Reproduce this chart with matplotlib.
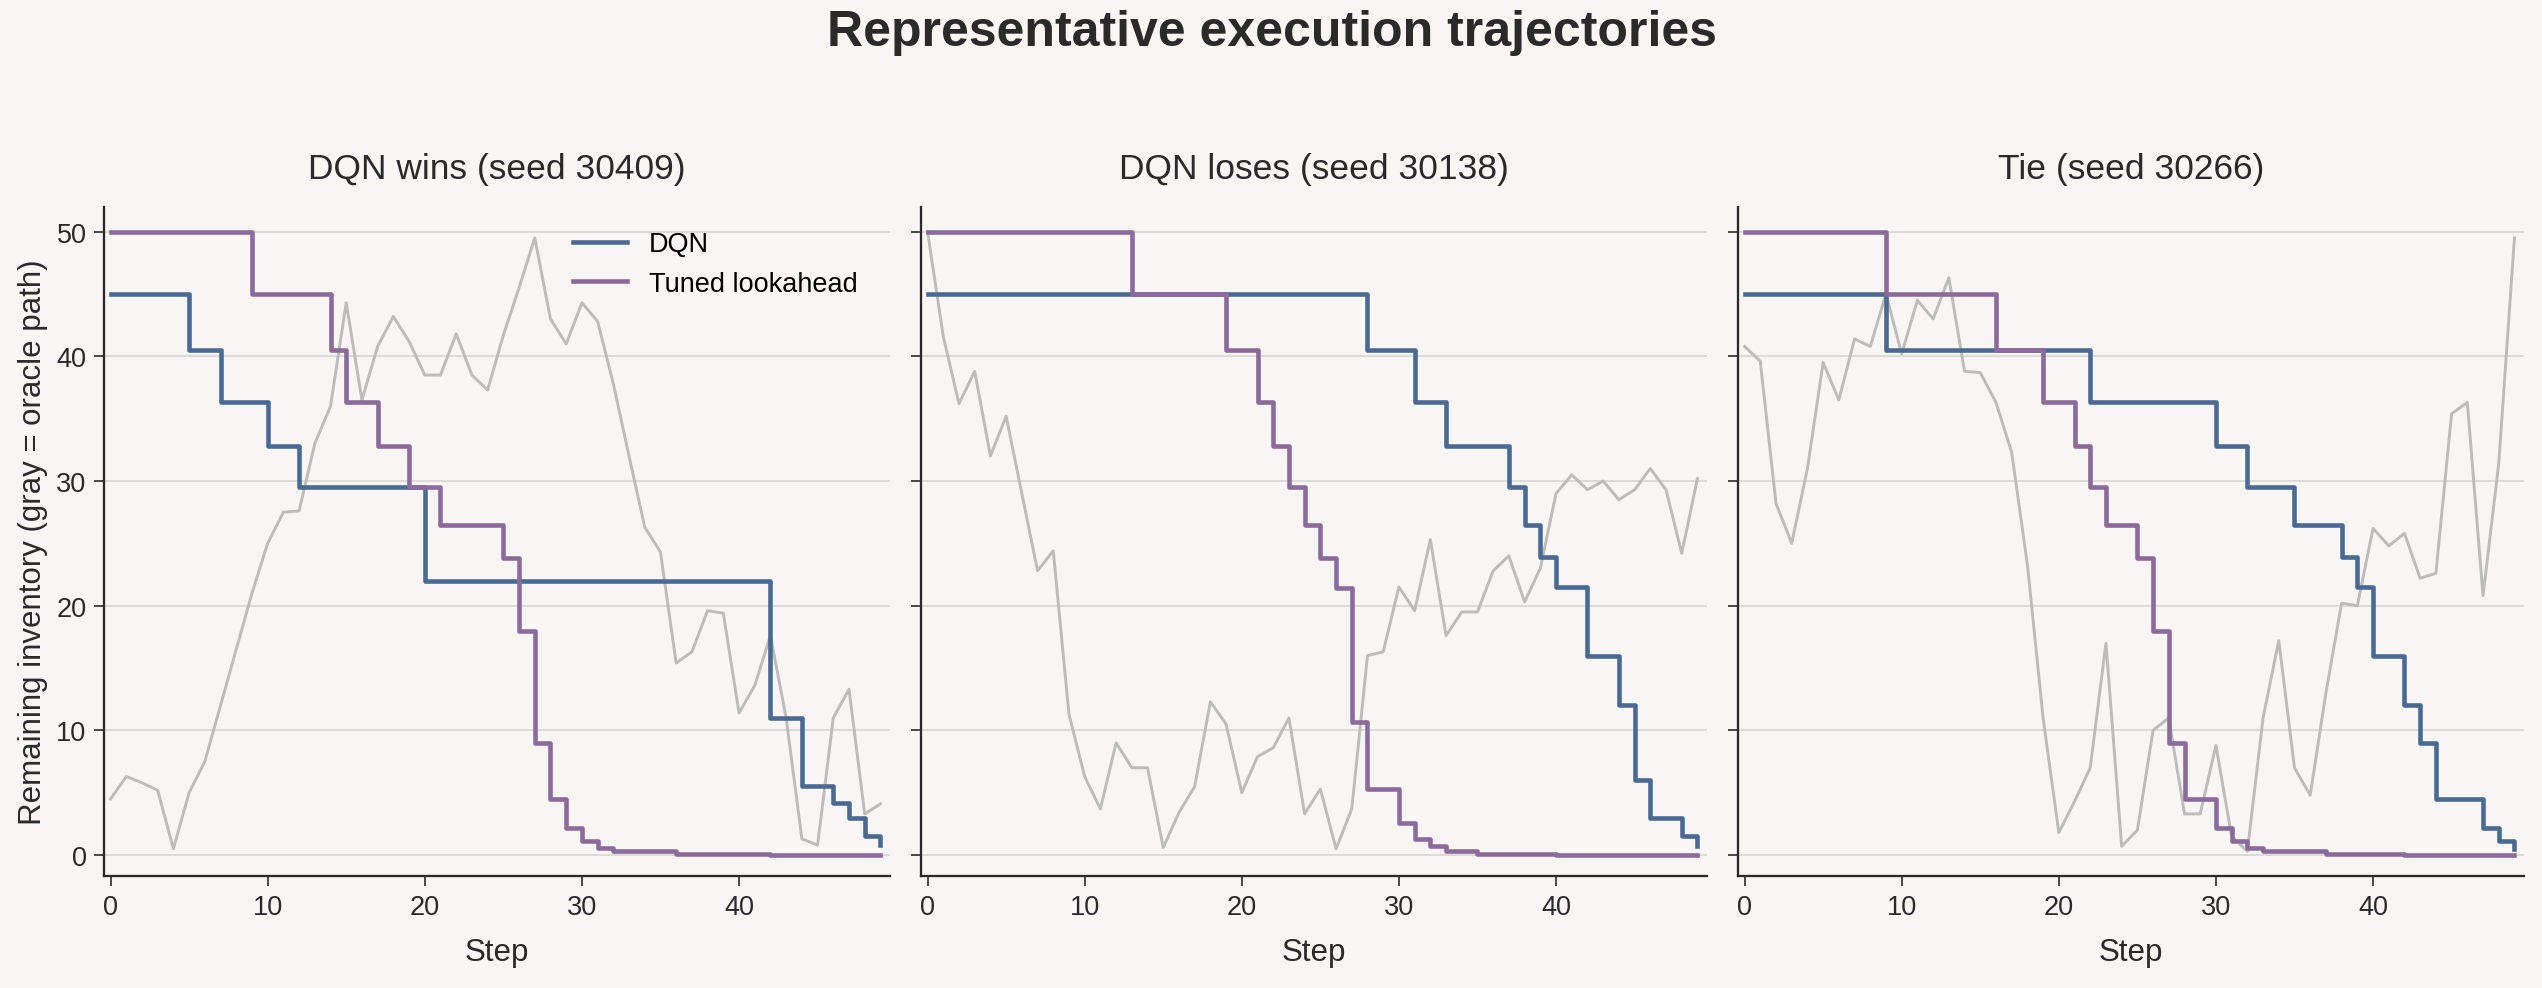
import matplotlib
matplotlib.use("Agg")
import matplotlib.pyplot as plt
import numpy as np

steps = list(range(50))

def expand(segs, n=50):
    out = []
    for val, until in segs:
        while len(out) < min(until, n):
            out.append(val)
    while len(out) < n:
        out.append(segs[-1][0])
    return out

titles = ["DQN wins (seed 30409)", "DQN loses (seed 30138)", "Tie (seed 30266)"]

dqn1 = expand([(45, 5), (40.5, 7), (36.3, 10), (32.8, 12), (29.5, 20), (22, 42), (11, 44), (5.5, 46), (4.2, 47), (3, 48), (1.5, 49), (0.8, 50)])
tun1 = expand([(50, 9), (45, 14), (40.5, 15), (36.3, 17), (32.8, 19), (29.5, 21), (26.5, 25), (23.8, 26), (18, 27), (9, 28), (4.5, 29), (2.2, 30), (1.1, 31), (0.6, 32), (0.3, 36), (0.1, 42), (0.0, 50)])
gray1 = [4.5, 6.3, 5.8, 5.2, 0.5, 5, 7.5, 12, 16.5, 21, 25, 27.5, 27.6, 33, 36, 44.3, 36.5, 40.8, 43.2, 41.2,
         38.5, 38.5, 41.8, 38.5, 37.3, 41.7, 45.5, 49.5, 43, 41, 44.3, 42.8, 37.8, 32, 26.3, 24.3, 15.4, 16.3, 19.6, 19.4,
         11.4, 13.6, 17.6, 11, 1.3, 0.8, 11, 13.3, 3.3, 4.1]

dqn2 = expand([(45, 28), (40.5, 31), (36.3, 33), (32.8, 37), (29.5, 38), (26.5, 39), (23.9, 40), (21.5, 42), (16, 44), (12, 45), (6, 46), (3, 48), (1.5, 49), (0.7, 50)])
tun2 = expand([(50, 13), (45, 19), (40.5, 21), (36.3, 22), (32.8, 23), (29.5, 24), (26.5, 25), (23.8, 26), (21.4, 27), (10.7, 28), (5.3, 30), (2.6, 31), (1.3, 32), (0.7, 33), (0.3, 35), (0.1, 40), (0.0, 50)])
gray2 = [50, 41.6, 36.2, 38.8, 32, 35.2, 29, 22.8, 24.4, 11.3, 6.3, 3.7, 9, 7, 7, 0.6, 3.4, 5.5, 12.3, 10.5,
         5, 7.9, 8.6, 11, 3.3, 5.3, 0.5, 3.7, 16, 16.3, 21.5, 19.6, 25.3, 17.6, 19.5, 19.5, 22.8, 24, 20.3, 23,
         29, 30.5, 29.3, 30, 28.5, 29.3, 31, 29.3, 24.2, 30.2]

dqn3 = expand([(45, 9), (40.5, 22), (36.3, 30), (32.8, 32), (29.5, 35), (26.5, 38), (23.9, 39), (21.5, 40), (16, 42), (12, 43), (9, 44), (4.5, 47), (2.2, 48), (1.1, 49), (0.5, 50)])
tun3 = expand([(50, 9), (45, 16), (40.5, 19), (36.3, 21), (32.8, 22), (29.5, 23), (26.5, 25), (23.8, 26), (18, 27), (9, 28), (4.5, 30), (2.2, 31), (1.1, 32), (0.6, 33), (0.3, 37), (0.1, 42), (0.0, 50)])
gray3 = [40.8, 39.6, 28.2, 25, 31, 39.5, 36.5, 41.4, 40.8, 45, 40.2, 44.5, 43, 46.3, 38.8, 38.7, 36.3, 32.3, 23.3, 11,
         1.8, 4.3, 7, 17, 0.7, 2, 10, 11, 3.3, 3.3, 8.8, 1.5, 0.3, 11, 17.2, 7, 4.8, 13, 20.2, 20,
         26.2, 24.8, 25.8, 22.2, 22.6, 35.4, 36.3, 20.8, 31.4, 49.5]

dqn_all = [dqn1, dqn2, dqn3]
tun_all = [tun1, tun2, tun3]
gray_all = [gray1, gray2, gray3]

bg = "#f7f6f2"
c_dqn = "#4a6a94"
c_tun = "#8b6a9c"
c_gray = "#bcbcb8"
txt = "#2a2a2a"

plt.rcParams['font.family'] = ['Arial', 'Liberation Sans', 'DejaVu Sans']
fig, axes = plt.subplots(1, 3, figsize=(16.953, 6.593), dpi=150, sharey=True, facecolor=bg)
fig.subplots_adjust(left=0.041, right=0.9925, top=0.79, bottom=0.113, wspace=0.04)

for i, ax in enumerate(axes):
    ax.set_facecolor(bg)
    ax.grid(axis='y', color="#dcdad5", linewidth=0.9)
    ax.set_axisbelow(True)
    ax.plot(steps, gray_all[i], color=c_gray, linewidth=1.4, zorder=2)
    ax.plot(steps, dqn_all[i], drawstyle='steps-post', color=c_dqn, linewidth=2.2, label="DQN", zorder=3)
    ax.plot(steps, tun_all[i], drawstyle='steps-post', color=c_tun, linewidth=2.2, label="Tuned lookahead", zorder=3)
    ax.set_xlim(-0.4, 49.6)
    ax.set_ylim(-1.7, 52)
    ax.set_xticks([0, 10, 20, 30, 40])
    ax.set_yticks([0, 10, 20, 30, 40, 50])
    for s in ["top", "right"]:
        ax.spines[s].set_visible(False)
    for s in ["left", "bottom"]:
        ax.spines[s].set_color(txt)
        ax.spines[s].set_linewidth(1.1)
    ax.tick_params(labelsize=13, colors=txt, length=5)
    ax.set_xlabel("Step", fontsize=15, color=txt, labelpad=8)
    ax.set_title(titles[i], fontsize=17, color=txt, pad=14)

axes[0].set_ylabel("Remaining inventory (gray = oracle path)", fontsize=15, color=txt)
axes[0].legend(loc="upper right", frameon=False, fontsize=13, bbox_to_anchor=(0.99, 1.0))
fig.suptitle("Representative execution trajectories", fontsize=24, fontweight='bold', color=txt, y=0.99)
fig.savefig("out.png", facecolor=bg)
